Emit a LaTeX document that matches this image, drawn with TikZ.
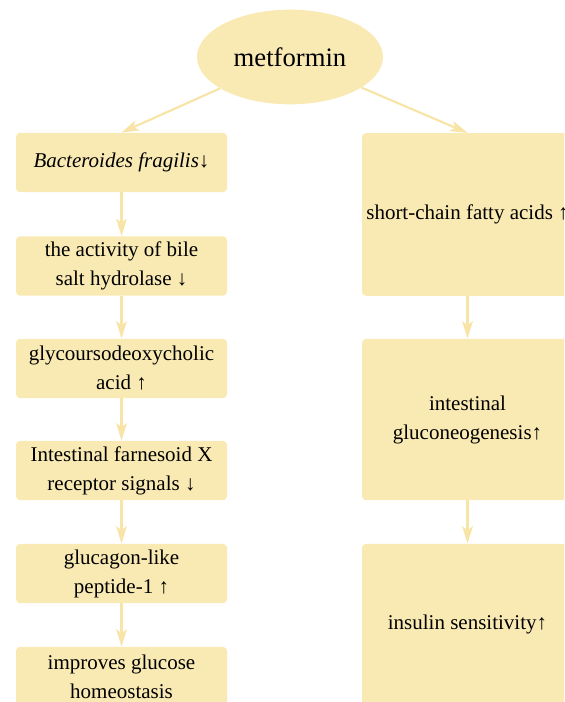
\documentclass[tikz,border=0pt]{standalone}
\usepackage{fontspec}
\setmainfont{Liberation Serif}
\usetikzlibrary{arrows.meta,shapes.geometric}
\definecolor{boxfill}{RGB}{249,234,180}
\definecolor{arrowcol}{RGB}{247,228,166}
\begin{document}
\begin{tikzpicture}[x=0.75pt,y=-0.75pt,
  stepbox/.style={fill=boxfill, rounded corners=3pt, minimum width=158.25pt, minimum height=44.5pt, inner sep=0pt, align=center, font=\fontsize{15.75}{21.75}\selectfont},
  bigbox/.style={stepbox, minimum height=121pt},
  flow/.style={arrowcol, line width=1.6pt, -{Stealth[length=13pt,width=8pt,inset=3pt]}}]
% Set the page size
\useasboundingbox (0,0) rectangle (564,702);
\clip (0,0) rectangle (564,702);

% Top node
\node[ellipse, fill=boxfill, minimum width=139.5pt, minimum height=71pt, font=\fontsize{20}{24}\selectfont] (met) at (290,57) {metformin};

% Left column
\node[stepbox] (bf) at (121.5,162.5) {\textit{Bacteroides fragilis}↓};
\node[stepbox] (bsh) at (121.5,266) {the activity of bile\\salt hydrolase ↓};
\node[stepbox] (gudca) at (121.5,368.5) {glycoursodeoxycholic\\acid ↑};
\node[stepbox] (fxr) at (121.5,470.5) {Intestinal farnesoid X\\receptor signals ↓};
\node[stepbox] (glp) at (121.5,573.5) {glucagon-like\\peptide-1 ↑};
\node[stepbox] (glu) at (121.5,676.5) {improves glucose\\homeostasis};

% Right column
\node[bigbox, minimum height=122pt] (scfa) at (467.5,214.5) {short-chain fatty acids ↑};
\node[bigbox] (ign) at (467.5,419.5) {intestinal\\gluconeogenesis↑};
\node[bigbox] (ins) at (467.5,624.5) {insulin sensitivity↑};

% Arrows
\draw[flow] (met) -- (bf.north);
\draw[flow] (met) -- (scfa.north);
\draw[flow] (bf) -- (bsh);
\draw[flow] (bsh) -- (gudca);
\draw[flow] (gudca) -- (fxr);
\draw[flow] (fxr) -- (glp);
\draw[flow] (glp) -- (glu);
\draw[flow] (scfa) -- (ign);
\draw[flow] (ign) -- (ins);
\end{tikzpicture}
\end{document}
